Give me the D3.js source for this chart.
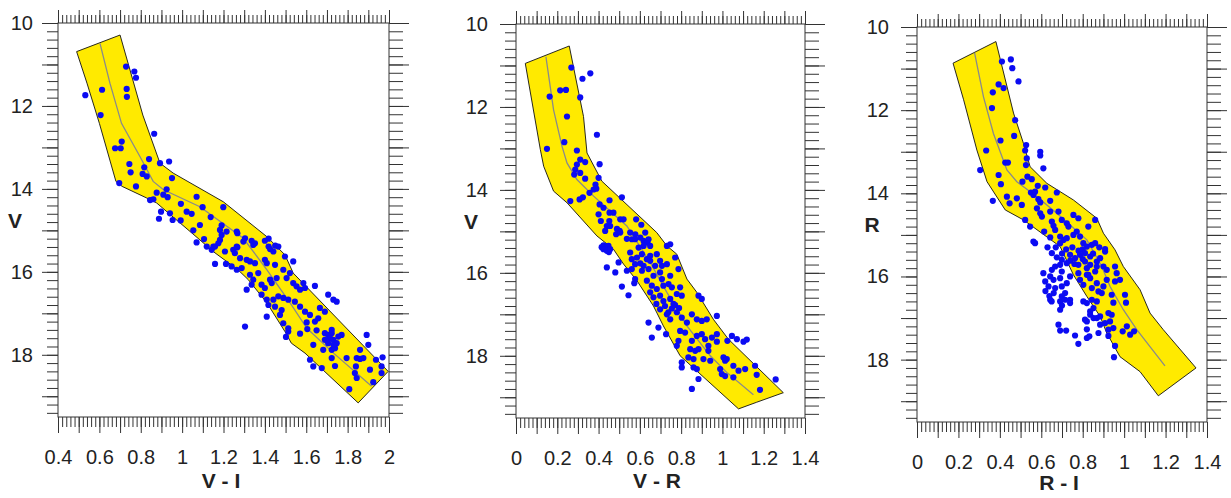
<!DOCTYPE html>
<html>
<head>
<meta charset="utf-8">
<script src="https://cdn.jsdelivr.net/npm/d3@7"></script>
<style>
  html, body { margin: 0; padding: 0; background: #fff; }
  svg { display: block; font-family: "Liberation Sans", Arial, sans-serif; }
</style>
</head>
<body>
<svg id="chart" width="1231" height="498"></svg>
<script>
// ---- Colour-magnitude diagrams: stars [colour index, magnitude] ----
const starsVI = [
  [0.729,11.05],[0.769,11.17],[0.777,11.32],[0.732,11.59],[0.733,11.78],[0.613,11.61],[0.532,11.74],[0.606,12.22],
  [0.865,12.67],[0.708,12.86],[0.676,13.02],[0.703,13.02],[0.840,13.28],[0.745,13.40],[0.893,13.38],[0.937,13.34],
  [0.817,13.48],[0.751,13.60],[0.809,13.64],[0.829,13.70],[0.951,13.74],[0.696,13.86],[0.777,13.94],[0.925,14.01],
  [0.877,14.09],[0.909,14.14],[0.930,14.20],[1.070,14.19],[0.845,14.27],[0.861,14.25],[0.994,14.36],[1.099,14.44],
  [1.199,14.44],[0.898,14.55],[0.941,14.59],[1.022,14.55],[1.046,14.60],[1.138,14.68],[0.888,14.72],[0.954,14.75],
  [0.993,14.76],[1.086,14.87],[1.191,14.88],[1.054,15.00],[1.183,14.99],[1.215,15.03],[1.264,15.03],[1.267,15.07],
  [1.191,15.11],[1.106,15.21],[1.183,15.23],[1.175,15.31],[1.304,15.19],[1.336,15.25],[1.352,15.31],[1.418,15.20],
  [1.450,15.37],[1.418,15.39],[1.070,15.29],[1.119,15.39],[1.151,15.39],[1.267,15.41],
  [1.143,15.47],[1.159,15.39],[1.207,15.51],[1.247,15.47],[1.264,15.39],[1.296,15.27],[1.344,15.35],[1.400,15.25],
  [1.425,15.45],[1.441,15.51],[1.465,15.39],[1.537,15.75],
  [1.159,15.81],[1.212,15.81],[1.255,15.55],[1.280,15.67],[1.312,15.71],[1.328,15.75],[1.352,15.79],[1.400,15.71],
  [1.409,15.79],[1.449,15.83],[1.497,15.63],[1.239,15.87],[1.264,15.95],[1.288,15.91],[1.328,16.07],[1.344,16.19],
  [1.336,16.31],[1.312,16.43],[1.368,16.03],[1.384,16.31],[1.400,16.39],[1.425,16.19],[1.433,16.27],[1.457,16.15],
  [1.489,15.95],[1.505,16.15],[1.521,16.03],[1.537,16.27],[1.553,16.35],[1.570,16.43],[1.586,16.27],[1.594,16.39],
  [1.642,16.34],[1.384,16.55],[1.409,16.67],[1.441,16.67],[1.465,16.59],[1.489,16.63],[1.513,16.67],[1.545,16.72],
  [1.417,16.80],[1.449,16.84],[1.481,16.92],[1.570,16.84],[1.594,16.96],[1.618,17.04],[1.666,16.87],[1.690,16.96],
  [1.706,16.55],[1.731,16.67],[1.747,16.72],[1.409,17.08],[1.473,17.04],
  [1.304,17.32],[1.489,17.24],[1.513,17.36],[1.513,17.44],[1.502,17.57],[1.570,17.49],[1.605,17.38],[1.602,17.22],
  [1.650,17.41],[1.642,17.20],[1.658,17.12],[1.690,17.48],[1.706,17.52],[1.723,17.48],[1.715,17.60],[1.731,17.64],
  [1.747,17.72],[1.771,17.52],[1.634,17.76],[1.682,17.88],[1.723,17.88],[1.739,17.84],[1.723,18.08],[1.795,18.08],
  [1.690,17.64],[1.706,17.72],[1.731,17.76],[1.723,17.40],[1.755,17.56],
  [1.860,17.88],[1.844,18.08],[1.860,18.10],[1.876,18.08],[1.892,17.52],[1.900,17.76],[1.969,18.06],[1.937,18.12],
  [1.618,18.12],[1.634,18.28],[1.675,18.32],[1.739,18.27],[1.840,18.28],[1.835,18.44],[1.844,18.56],[1.908,18.36],
  [1.964,18.28],[1.964,18.44],[1.924,18.66],[1.808,18.83]
];

const starsVR = [
  [0.268,11.05],[0.322,11.32],[0.360,11.19],[0.163,11.75],[0.214,11.60],[0.242,11.59],[0.311,11.77],[0.247,12.23],
  [0.392,12.67],[0.234,12.85],[0.150,13.01],[0.295,13.05],[0.311,13.27],[0.335,13.33],[0.405,13.38],[0.295,13.39],
  [0.287,13.51],[0.311,13.59],[0.282,13.63],[0.335,13.73],[0.400,13.71],[0.385,13.87],[0.389,13.97],[0.376,13.99],
  [0.356,14.07],[0.324,14.18],[0.308,14.23],[0.263,14.27],[0.453,14.25],[0.513,14.18],[0.405,14.35],[0.424,14.43],
  [0.453,14.55],[0.472,14.55],[0.400,14.59],[0.411,14.75],[0.452,14.75],[0.505,14.71],[0.521,14.71],[0.440,14.87],
  [0.582,14.71],[0.607,14.84],[0.432,14.99],[0.489,14.94],[0.502,14.99],[0.485,15.07],[0.553,15.03],[0.578,15.07],
  [0.602,15.15],[0.537,15.18],[0.561,15.19],[0.626,15.03],[0.618,15.23],[0.637,15.27],[0.650,15.35],[0.424,15.34],
  [0.448,15.35],[0.731,15.35],[0.747,15.31],
  [0.456,14.87],[0.505,15.03],[0.594,15.39],[0.618,15.35],[0.642,15.19],[0.577,15.19],[0.430,15.40],[0.450,15.50],
  [0.415,15.38],[0.586,15.63],[0.610,15.55],[0.634,15.67],[0.650,15.59],[0.682,15.55],[0.698,15.71],[0.707,15.83],
  [0.747,16.07],[0.722,16.80],[0.755,16.86],[0.771,16.78],[0.738,16.95],[0.790,16.85],[0.680,16.75],
  [0.424,15.43],[0.440,15.47],[0.456,15.43],[0.497,15.75],[0.440,15.87],[0.481,15.99],[0.513,16.33],[0.545,16.54],
  [0.537,15.95],[0.561,15.91],[0.577,16.15],[0.573,16.25],[0.553,15.51],[0.561,15.67],[0.577,15.79],[0.602,15.77],
  [0.618,15.83],[0.642,15.91],[0.610,15.95],[0.650,15.71],[0.674,15.83],[0.666,16.07],[0.698,15.99],[0.731,15.79],
  [0.771,15.63],[0.787,15.91],[0.634,16.19],[0.658,16.31],[0.682,16.39],[0.707,16.15],[0.714,16.31],[0.739,16.27],
  [0.755,16.35],[0.795,16.35],[0.779,16.51],[0.803,16.55],[0.650,16.47],[0.666,16.59],[0.698,16.55],[0.714,16.68],
  [0.747,16.63],[0.763,16.75],[0.884,16.55],[0.900,16.63],
  [0.642,17.20],[0.690,17.32],[0.658,17.56],[0.727,17.48],[0.698,16.88],[0.731,17.00],[0.747,17.12],[0.779,16.95],
  [0.803,17.08],[0.828,17.20],[0.852,17.00],[0.876,17.12],[0.900,17.16],[0.924,17.12],[0.973,17.04],[0.795,17.40],
  [0.819,17.44],[0.787,17.64],[0.779,17.76],[0.852,17.64],[0.876,17.52],[0.900,17.48],[0.916,17.60],[0.949,17.56],
  [0.973,17.48],[1.046,17.52],[1.070,17.60],[1.102,17.66],[1.118,17.61],[0.844,17.84],[0.868,17.88],[0.884,17.84],
  [0.932,17.76],[0.932,17.88],[0.973,17.66],[1.024,17.64],[0.835,18.04],[0.860,18.08],[0.908,18.08],[0.941,18.12],
  [0.803,18.16],[0.803,18.28],[0.860,18.28],[0.876,18.32],[0.884,18.56],[0.852,18.80],[1.005,18.04],[1.021,18.08],
  [1.013,18.12],[1.053,18.24],[1.078,18.36],[1.110,18.32],[0.989,18.32],[0.997,18.44],[1.013,18.49],[1.053,18.52],
  [1.158,18.24],[1.166,18.46],[1.182,18.82],[1.258,18.57]
];

const starsRI = [
  [0.410,10.83],[0.453,10.78],[0.460,10.99],[0.490,11.31],[0.394,11.38],[0.418,11.47],[0.366,11.57],[0.362,11.95],
  [0.474,12.24],[0.469,12.62],[0.403,12.73],[0.527,12.84],[0.522,12.97],[0.334,12.97],[0.595,13.00],[0.595,13.09],
  [0.530,13.16],[0.426,13.26],[0.439,13.26],[0.526,13.32],[0.610,13.40],[0.305,13.44],[0.394,13.56],[0.533,13.60],
  [0.554,13.66],[0.405,13.78],[0.509,13.72],[0.583,13.82],[0.619,13.86],[0.550,13.98],[0.562,14.04],[0.570,13.96],
  [0.675,13.98],[0.434,14.08],[0.447,14.24],[0.482,14.12],[0.506,14.28],[0.366,14.18],[0.586,14.14],[0.595,14.22],
  [0.643,14.18],[0.579,14.36],[0.595,14.48],[0.603,14.56],[0.643,14.44],[0.683,14.44],[0.522,14.64],[0.546,14.80],
  [0.651,14.68],[0.659,14.78],[0.667,14.88],[0.699,14.64],[0.723,14.72],[0.731,14.80],[0.755,14.52],[0.779,14.60],
  [0.827,14.80],[0.860,14.64],[0.771,14.92],[0.755,15.00],[0.787,15.04],[0.562,15.16],[0.570,15.20],[0.614,14.92],
  [0.643,15.06],[0.691,15.04],[0.707,15.12],[0.723,15.08],[0.691,15.20],[0.803,15.20],[0.820,15.28],[0.844,15.24],
  [0.860,15.20],[0.908,15.34],
  [0.720,15.35],[0.750,15.30],[0.780,15.38],[0.800,15.35],[0.700,15.45],[0.740,15.62],[0.760,15.70],[0.800,15.58],
  [0.850,15.45],[0.820,15.80],[0.860,15.88],[0.880,15.30],[0.630,15.30],[0.670,15.30],
  [0.651,15.44],[0.675,15.54],[0.699,15.60],[0.723,15.68],[0.691,15.72],[0.667,15.76],[0.739,15.48],[0.763,15.56],
  [0.787,15.48],[0.811,15.44],[0.836,15.52],[0.779,15.72],[0.811,15.64],[0.836,15.72],[0.868,15.64],[0.884,15.56],
  [0.908,15.40],[0.868,15.76],[0.900,15.76],[0.916,15.84],[0.956,15.76],[0.964,15.92],[0.610,15.92],[0.651,15.84],
  [0.699,15.88],[0.739,16.00],[0.779,15.92],[0.827,15.96],
  [0.643,16.00],[0.619,16.12],[0.659,16.08],[0.635,16.24],[0.691,16.04],[0.699,16.24],[0.667,16.28],[0.723,16.16],
  [0.715,16.40],[0.639,16.47],[0.643,16.56],[0.691,16.60],[0.699,16.48],[0.715,16.56],[0.739,16.56],[0.739,16.64],
  [0.620,16.35],[0.660,16.40],[0.650,16.60],[0.700,16.70],
  [0.691,16.80],[0.787,16.08],[0.803,16.20],[0.820,15.96],[0.836,16.04],[0.844,16.28],[0.868,16.16],[0.876,16.36],
  [0.900,16.24],[0.892,16.40],[0.916,16.08],[0.956,16.12],[0.980,16.08],[1.004,16.44],[1.009,16.63],[0.940,16.44],
  [0.948,16.63],[0.803,16.60],[0.820,16.64],[0.844,16.56],[0.868,16.60],[0.852,16.76],[0.836,16.84],[0.836,16.92],
  [0.852,17.00],[0.811,17.04],[0.820,17.08],[0.868,17.00],[0.884,16.96],[0.924,16.88],[0.940,16.92],[0.932,17.08],
  [0.884,17.16],[0.908,17.12],[0.924,17.28],[0.948,17.24],[0.683,17.16],[0.691,17.30],[0.720,17.30],[0.763,17.42],
  [0.779,17.62],[0.820,17.27],[0.820,17.48],[0.832,17.44],[0.876,17.36],[0.924,17.43],[0.993,17.32],[1.013,17.20],
  [1.029,17.40],[1.048,17.32],[0.956,17.67],[0.951,17.94]
];

// ---- Isochrone ridge lines and the membership bands around them ----
const ridgeVI = [[0.603,10.49],[0.651,11.45],[0.707,12.42],[0.796,13.22],[0.86,13.82],[0.91,14.02],[1.086,14.43],
  [1.296,15.19],[1.41,15.95],[1.522,16.75],[1.603,17.36],[1.732,17.96],[1.916,18.76]];
const bandVI = [[0.49,10.69],[0.70,10.29],[0.81,12.22],[0.893,13.38],[0.957,13.62],[1.199,14.31],[1.409,15.15],
  [1.497,15.59],[1.537,16.03],[1.996,18.40],[1.851,19.16],[1.594,17.96],[1.528,17.72],[1.497,17.44],[1.41,16.75],
  [1.32,16.19],[1.27,15.95],[1.15,15.51],[1.086,15.23],[0.877,14.34],[0.829,14.22],[0.71,13.94],[0.68,13.82],
  [0.60,12.42],[0.54,11.45]];

const ridgeVR = [[0.145,10.79],[0.182,12.07],[0.223,12.95],[0.247,13.35],[0.295,13.75],[0.376,14.15],[0.537,14.87],
  [0.650,15.75],[0.731,16.47],[0.828,17.28],[0.941,18.0],[1.021,18.40],[1.150,18.94]];
const bandVR = [[0.045,10.95],[0.258,10.53],[0.327,12.23],[0.344,13.11],[0.416,13.79],[0.682,15.03],[0.731,15.35],
  [0.779,15.55],[0.828,16.15],[0.876,16.47],[0.956,17.12],[1.029,17.60],[1.295,18.89],[1.166,19.12],[1.078,19.28],
  [0.795,18.0],[0.714,17.28],[0.666,16.80],[0.586,16.19],[0.521,15.79],[0.472,15.43],[0.392,15.11],[0.247,14.31],
  [0.182,14.03],[0.134,13.43],[0.118,13.03]];

const ridgeRI = [[0.278,10.62],[0.321,11.68],[0.369,12.56],[0.434,13.44],[0.482,13.72],[0.579,14.08],[0.675,14.48],
  [0.820,15.12],[0.892,15.76],[0.932,16.24],[0.996,16.80],[1.061,17.28],[1.197,18.15]];
const bandRI = [[0.174,10.87],[0.381,10.35],[0.466,12.07],[0.514,12.80],[0.546,13.36],[0.627,13.76],[0.755,14.16],
  [0.868,14.60],[0.900,14.96],[0.956,15.36],[0.996,15.76],[1.077,16.32],[1.125,16.88],[1.189,17.28],[1.347,18.20],
  [1.165,18.87],[1.077,18.29],[0.980,17.93],[0.916,17.36],[0.884,16.96],[0.820,16.48],[0.755,15.96],[0.691,15.28],
  [0.514,14.64],[0.426,14.40],[0.338,13.72],[0.289,12.96],[0.225,11.75]];

// ---- Axis tick labels ----
const magLabels = [10, 12, 14, 16, 18];
const colourLabelsVI = [0.4, 0.6, 0.8, 1, 1.2, 1.4, 1.6, 1.8, 2];
const colourLabelsVR = [0, 0.2, 0.4, 0.6, 0.8, 1, 1.2, 1.4];
const colourLabelsRI = [0, 0.2, 0.4, 0.6, 0.8, 1, 1.2, 1.4];
const magDomain = [10, 19.5];

const panels = [
  { left: 58,  right: 389,  top: 23, bottom: 417, xDomain: [0.4, 2.0], xLabels: colourLabelsVI,
    xTitle: "V - I", yTitle: "V", yLabelGap: 25, stars: starsVI, ridge: ridgeVI, band: bandVI,
    xTitleX: 221, xTitleY: 488, yTitleX: 15, yTitleY: 228 },
  { left: 516, right: 805,  top: 24, bottom: 418, xDomain: [0, 1.4], xLabels: colourLabelsVR,
    xTitle: "V - R", yTitle: "V", yLabelGap: 28, stars: starsVR, ridge: ridgeVR, band: bandVR,
    xTitleX: 657, xTitleY: 488, yTitleX: 471, yTitleY: 229 },
  { left: 917, right: 1207, top: 27, bottom: 422, xDomain: [0, 1.4], xLabels: colourLabelsRI,
    xTitle: "R - I", yTitle: "R", yLabelGap: 28, stars: starsRI, ridge: ridgeRI, band: bandRI,
    xTitleX: 1059, xTitleY: 490, yTitleX: 872, yTitleY: 232 }
];

const svg = d3.select("#chart");
const fmt = d => String(+d.toFixed(1));

function styleAxis(g) {
  g.select(".domain").remove();
  g.selectAll(".tick line").attr("stroke", "#333").attr("stroke-width", 1);
  g.selectAll(".tick text").attr("fill", "#222").style("font-size", "20px")
    .style("font-family", "'Liberation Sans', Arial, sans-serif");
}

panels.forEach(p => {
  const x = d3.scaleLinear().domain(p.xDomain).range([p.left, p.right]);
  const y = d3.scaleLinear().domain(magDomain).range([p.top, p.bottom]);
  const g = svg.append("g");

  const xMinor = d3.range(Math.round(p.xDomain[0] * 50), Math.round(p.xDomain[1] * 50) + 1).map(k => k / 50);
  const xMajor = d3.range(Math.round(p.xDomain[0] * 10), Math.round(p.xDomain[1] * 10) + 1).map(k => k / 10);
  const yMinor = d3.range(50, 98).map(k => k / 5);
  const yMajor = d3.range(10, 20);

  // membership band and ridge line
  g.append("path")
    .datum(p.band)
    .attr("d", d3.line().x(d => x(d[0])).y(d => y(d[1])).curve(d3.curveLinearClosed))
    .attr("fill", "#ffea00").attr("stroke", "#111").attr("stroke-width", 0.9);
  g.append("path")
    .datum(p.ridge)
    .attr("d", d3.line().x(d => x(d[0])).y(d => y(d[1])))
    .attr("fill", "none").attr("stroke", "#8a8a8a").attr("stroke-width", 1.3);

  // stars
  g.append("g").selectAll("circle").data(p.stars).join("circle")
    .attr("cx", d => x(d[0])).attr("cy", d => y(d[1])).attr("r", 3.1)
    .attr("fill", "#0b0bf2");

  // frame
  g.append("rect").attr("x", p.left).attr("y", p.top)
    .attr("width", p.right - p.left).attr("height", p.bottom - p.top)
    .attr("fill", "none").attr("stroke", "#333").attr("stroke-width", 1);

  // bottom ticks and labels
  g.append("g").attr("transform", `translate(0,${p.bottom})`)
    .call(d3.axisBottom(x).tickValues(xMinor).tickSize(10).tickFormat("")).call(styleAxis);
  g.append("g").attr("transform", `translate(0,${p.bottom})`)
    .call(d3.axisBottom(x).tickValues(xMajor).tickSize(16).tickFormat("")).call(styleAxis);
  g.append("g").attr("transform", `translate(0,${p.bottom})`)
    .call(d3.axisBottom(x).tickValues(p.xLabels).tickSize(0).tickPadding(33).tickFormat(fmt)).call(styleAxis);

  // top ticks
  g.append("g").attr("transform", `translate(0,${p.top})`)
    .call(d3.axisTop(x).tickValues(xMinor).tickSize(8).tickFormat("")).call(styleAxis);
  g.append("g").attr("transform", `translate(0,${p.top})`)
    .call(d3.axisTop(x).tickValues(xMajor).tickSize(13).tickFormat("")).call(styleAxis);

  // left ticks and labels
  g.append("g").attr("transform", `translate(${p.left},0)`)
    .call(d3.axisLeft(y).tickValues(yMinor).tickSize(11).tickFormat("")).call(styleAxis);
  g.append("g").attr("transform", `translate(${p.left},0)`)
    .call(d3.axisLeft(y).tickValues(yMajor).tickSize(16).tickFormat("")).call(styleAxis);
  g.append("g").attr("transform", `translate(${p.left},0)`)
    .call(d3.axisLeft(y).tickValues(magLabels).tickSize(0).tickPadding(p.yLabelGap).tickFormat(d3.format("d")))
    .call(styleAxis);

  // right ticks
  g.append("g").attr("transform", `translate(${p.right},0)`)
    .call(d3.axisRight(y).tickValues(yMinor).tickSize(14).tickFormat("")).call(styleAxis);
  g.append("g").attr("transform", `translate(${p.right},0)`)
    .call(d3.axisRight(y).tickValues(yMajor).tickSize(20).tickFormat("")).call(styleAxis);

  // axis titles
  g.append("text").attr("x", p.xTitleX).attr("y", p.xTitleY).attr("text-anchor", "middle")
    .style("font-size", "21px").style("font-weight", "bold").attr("fill", "#222").text(p.xTitle);
  g.append("text").attr("x", p.yTitleX).attr("y", p.yTitleY).attr("text-anchor", "middle")
    .style("font-size", "21px").style("font-weight", "bold").attr("fill", "#222").text(p.yTitle);
});
</script>
</body>
</html>
